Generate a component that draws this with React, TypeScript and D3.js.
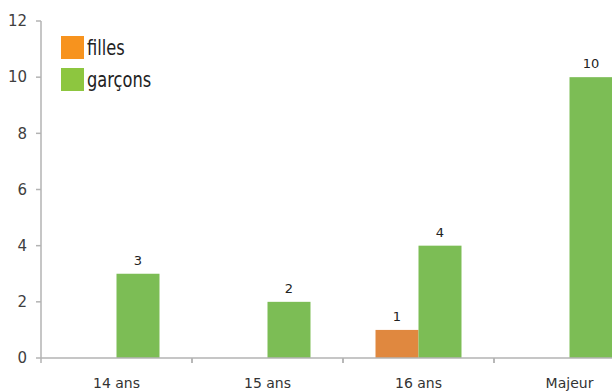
import React from "react";
import * as d3 from "d3";

const categories = ["14 ans", "15 ans", "16 ans", "Majeur"];
const filles = [0, 0, 1, 0];
const garcons = [3, 2, 4, 10];
const yTicks = [0, 2, 4, 6, 8, 10, 12];
const seriesNames = ["filles", "garçons"];

const W = 612;
const H = 392;
const margin = { left: 41, top: 21, bottom: 34 };
const bandW = 151;

export default function App() {
  const y = d3.scaleLinear().domain([0, 12]).range([H - margin.bottom, margin.top]);
  const x = d3
    .scaleBand<string>()
    .domain(categories)
    .range([margin.left, margin.left + bandW * categories.length])
    .paddingInner(0)
    .paddingOuter(0);
  const sub = d3.scaleBand<string>().domain(seriesNames).range([0, bandW]).paddingInner(0).paddingOuter(0.756);

  const barColors = ["#E0883F", "#7CBD55"];
  const legendColors = ["#F7931E", "#8DC63F"];
  const series = [filles, garcons];
  const y0 = y(0);
  const axisColor = "#B3B3B3";
  const font = "'Century Gothic', 'DejaVu Sans', sans-serif";

  return (
    <svg width={W} height={H} style={{ position: "absolute", left: 0, top: 0, background: "#fff" }}>
      {/* bars */}
      {series.map((vals, si) =>
        categories.map((c, ci) => {
          const v = vals[ci];
          if (!v) return null;
          const bx = (x(c) as number) + (sub(seriesNames[si]) as number);
          const bw = sub.bandwidth();
          return (
            <g key={`${si}-${ci}`}>
              <rect x={bx} y={y(v)} width={bw} height={y0 - y(v)} fill={barColors[si]} />
              <text
                x={bx + bw / 2}
                y={y(v) - 9}
                textAnchor="middle"
                fontFamily="'DejaVu Sans', sans-serif"
                fontSize={13}
                fill="#222"
              >
                {v}
              </text>
            </g>
          );
        })
      )}

      {/* y axis */}
      <line x1={margin.left} x2={margin.left} y1={margin.top} y2={y0} stroke={axisColor} strokeWidth={1.5} />
      {yTicks.map((t) => (
        <g key={t}>
          <line x1={margin.left - 5} x2={margin.left} y1={y(t)} y2={y(t)} stroke={axisColor} strokeWidth={1.5} />
          <text
            x={margin.left - 14}
            y={y(t)}
            dy="0.35em"
            textAnchor="end"
            fontFamily={font}
            fontSize={15}
            fill="#404040"
          >
            {t}
          </text>
        </g>
      ))}

      {/* x axis */}
      <line x1={margin.left} x2={W} y1={y0} y2={y0} stroke={axisColor} strokeWidth={1.5} />
      {categories.map((c) => (
        <g key={c}>
          <line
            x1={(x(c) as number) + bandW}
            x2={(x(c) as number) + bandW}
            y1={y0}
            y2={y0 + 5}
            stroke={axisColor}
            strokeWidth={1.5}
          />
          <line x1={x(c) as number} x2={x(c) as number} y1={y0} y2={y0 + 5} stroke={axisColor} strokeWidth={1.5} />
          <text
            x={(x(c) as number) + bandW / 2}
            y={y0 + 30}
            textAnchor="middle"
            fontFamily={font}
            fontSize={14}
            fill="#333"
          >
            {c}
          </text>
        </g>
      ))}

      {/* legend */}
      {seriesNames.map((n, i) => (
        <g key={n} transform={`translate(61, ${36 + i * 32})`}>
          <rect width={23} height={23} fill={legendColors[i]} />
          <text
            transform="translate(26, 19) scale(0.86, 1.05)"
            fontFamily="'DejaVu Sans Condensed', sans-serif"
            fontSize={21}
            fill="#222"
          >
            {n}
          </text>
        </g>
      ))}
    </svg>
  );
}
